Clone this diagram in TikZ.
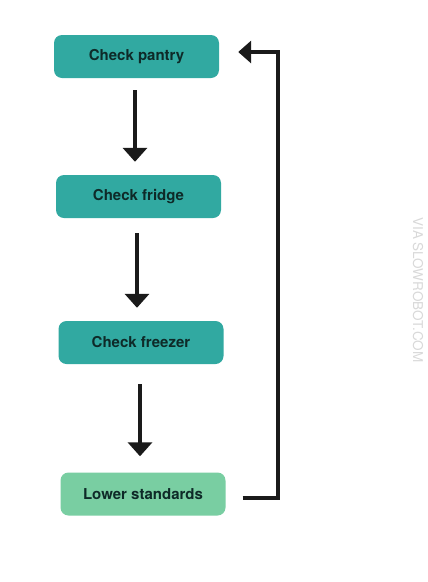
\documentclass[tikz,border=0pt]{standalone}
\usepackage{fontspec}
\setmainfont{TeX Gyre Heros}
\usetikzlibrary{arrows.meta,calc}
\definecolor{teal1}{HTML}{31A9A1}
\definecolor{green1}{HTML}{79CEA2}
\definecolor{txt}{HTML}{0E2A28}
\definecolor{arr}{HTML}{1A1A1A}
\tikzset{
  stepbox/.style={rounded corners=8pt, minimum width=165pt, minimum height=43pt,
    inner sep=0pt, font=\fontsize{15}{17}\selectfont\bfseries, text=txt},
  flow/.style={draw=arr, line width=4pt, -{Triangle[width=24pt,length=14pt]}}
}
\begin{document}
\begin{tikzpicture}[x=1pt,y=-1pt]
\useasboundingbox (0,0) rectangle (428,582);
\fill[white] (0,0) rectangle (428,582);
\node[stepbox, fill=teal1] (a) at (136.5,56.5) {Check pantry};
\node[stepbox, fill=teal1] (b) at (138.5,196.5) {Check fridge};
\node[stepbox, fill=teal1] (c) at (141,342.5) {Check freezer};
\node[stepbox, fill=green1] (d) at (143,494) {Lower standards};
\draw[flow, shorten <=12pt, shorten >=13pt] ([xshift=-1.5pt]a.south) -- ([xshift=-1.5pt]a.south |- b.north);
\draw[flow, shorten <=15pt, shorten >=13pt] ([xshift=-1.5pt]b.south) -- ([xshift=-1.5pt]b.south |- c.north);
\draw[flow, shorten <=20pt, shorten >=16pt] ([xshift=-1pt]c.south) -- ([xshift=-1pt]c.south |- d.north);
\coordinate (r0) at ($(d.east)+(17,4)$);
\coordinate (r1) at ($(a.east)+(19,-4.5)$);
\draw[draw=arr, line width=4pt, -{Triangle[width=22pt,length=13pt]}] (r0) -- (278,498) |- (r1);
\node[rotate=-90, text=gray!30, font=\fontsize{13.5}{13.5}\selectfont] (w) at (418,290) {VIA SLOWROBOT.COM};
\end{tikzpicture}
\end{document}
